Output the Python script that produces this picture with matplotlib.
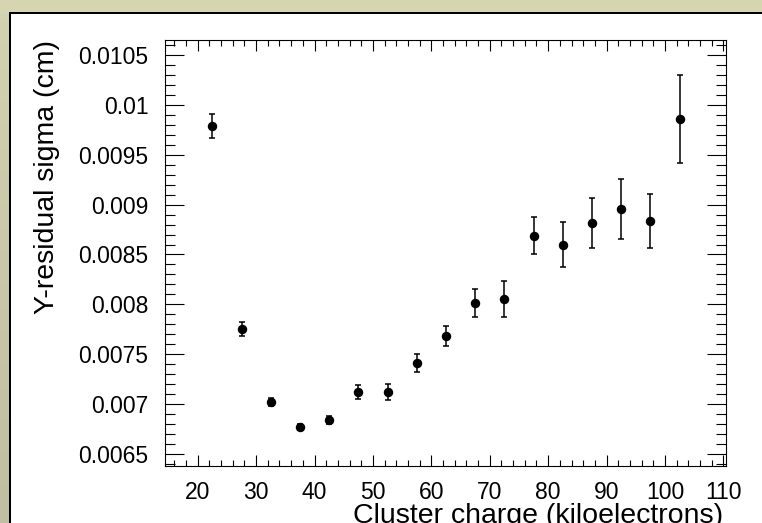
import matplotlib
matplotlib.use("Agg")
import matplotlib.pyplot as plt
import numpy as np
from matplotlib.patches import Rectangle
from matplotlib.colors import LinearSegmentedColormap
from matplotlib.ticker import FixedLocator, FuncFormatter, MultipleLocator

# ---- data ----
charge = [22.5, 27.5, 32.5, 37.5, 42.5, 47.5, 52.5, 57.5, 62.5,
          67.5, 72.5, 77.5, 82.5, 87.5, 92.5, 97.5, 102.5]
sigma = [0.00979, 0.00775, 0.00702, 0.00677, 0.00684, 0.00712, 0.00712,
         0.00741, 0.00768, 0.00801, 0.00805, 0.00869, 0.00860, 0.00882,
         0.00896, 0.00884, 0.00986]
sigma_err = [0.00012, 0.00007, 0.00004, 0.00003, 0.00004, 0.00007, 0.00008,
             0.00009, 0.00010, 0.00014, 0.00018, 0.00019, 0.00023, 0.00025,
             0.00030, 0.00027, 0.00044]
x_ticks = [20, 30, 40, 50, 60, 70, 80, 90, 100, 110]
y_ticks = [0.0065, 0.007, 0.0075, 0.008, 0.0085, 0.009, 0.0095, 0.01, 0.0105]
x_label = "Cluster charge (kiloelectrons)"
y_label = "Y-residual sigma (cm)"

plt.rcParams['font.family'] = ['Liberation Sans', 'DejaVu Sans']

W, H = 762, 523
fig = plt.figure(figsize=(W / 100, H / 100), dpi=100)
fig.patch.set_facecolor('#d5d5b1')

# left bevel strip, slightly darker towards the bottom
strip = fig.add_axes([0, 0, 10 / W, 1 - 13 / H], zorder=-10)
strip.axis('off')
cmap = LinearSegmentedColormap.from_list('bev', ['#bfbfa1', '#d2d2b0'])
strip.imshow(np.linspace(0, 1, 64).reshape(-1, 1), cmap=cmap, aspect='auto',
             origin='lower', extent=[0, 1, 0, 1])

# white pad with dark border (top/left visible)
pad = Rectangle((10 / W, -0.2), 1.2, 1 - 13 / H + 0.2, transform=fig.transFigure,
                facecolor='white', edgecolor='black', linewidth=1.44, zorder=-5)
fig.patches.append(pad)

ax_l, ax_r, ax_t, ax_b = 165, 725.7, 40, 465.7
ax = fig.add_axes([ax_l / W, 1 - ax_b / H, (ax_r - ax_l) / W, (ax_b - ax_t) / H])
ax.set_zorder(2)
ax.set_facecolor('white')

ax.errorbar(charge, sigma, yerr=sigma_err, fmt='o', color='black',
            ecolor='black', elinewidth=1.1, capsize=2.2, capthick=1.1,
            markersize=5.8, zorder=3)

ax.set_xlim(14.4, 110.4)
ax.set_ylim(0.006383, 0.01065)

ax.xaxis.set_major_locator(FixedLocator(x_ticks))
ax.xaxis.set_minor_locator(MultipleLocator(2))
ax.yaxis.set_major_locator(FixedLocator(y_ticks))
ax.yaxis.set_minor_locator(MultipleLocator(0.0001))
ax.yaxis.set_major_formatter(FuncFormatter(lambda v, p: '%g' % v))

ax.tick_params(axis='both', which='both', direction='in', top=True, right=True,
               colors='black', labelsize=16.5, width=0.8)
ax.tick_params(axis='x', which='major', length=8.2, pad=11)
ax.tick_params(axis='x', which='minor', length=4.0)
ax.tick_params(axis='y', which='major', length=13.8, pad=12)
ax.tick_params(axis='y', which='minor', length=7.2)
for s in ax.spines.values():
    s.set_linewidth(0.8)
    s.set_color('black')

ax.set_xlabel(x_label, fontsize=20.5)
ax.xaxis.label.set_ha('right')
ax.xaxis.label.set_va('baseline')
ax.xaxis.set_label_coords(0.995, -(523 - ax_b) / (ax_b - ax_t))

ax.set_ylabel(y_label, fontsize=20.5)
ylab = ax.yaxis.label
ylab.set_rotation(90)
ylab.set_rotation_mode('anchor')
ylab.set_ha('right')
ylab.set_va('baseline')
ax.yaxis.set_label_coords((53.5 - ax_l) / (ax_r - ax_l), 1.0)

fig.savefig('out.png', dpi=100)
